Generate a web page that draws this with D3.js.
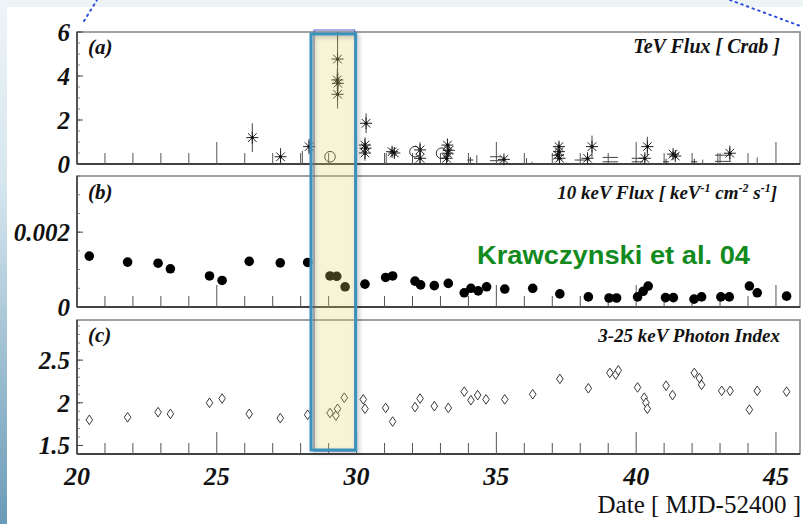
<!DOCTYPE html>
<html>
<head>
<meta charset="utf-8">
<script src="https://cdn.jsdelivr.net/npm/d3@7"></script>
<style>
  html, body { margin: 0; padding: 0; background: #fff; }
  svg { display: block; }
</style>
</head>
<body>
<svg id="chart" width="803" height="524"></svg>
<script>
// ---- Panel (a): TeV flux in Crab units ----
const tevStarDates = [26.27, 27.28, 28.30, 29.32, 29.31, 29.33, 29.32, 30.34, 30.30, 30.32, 30.30,
                      31.27, 31.35, 32.27, 32.27, 33.25, 33.25, 33.30, 33.22, 35.27, 37.24, 37.24,
                      37.26, 37.20, 38.26, 38.42, 40.31, 40.40, 41.32, 41.40, 43.35];
const tevStarFlux  = [1.20, 0.33, 0.79, 4.77, 3.82, 3.67, 3.17, 1.85, 0.86, 0.72, 0.50,
                      0.56, 0.50, 0.64, 0.26, 0.86, 0.49, 0.62, 0.26, 0.21, 0.79, 0.56,
                      0.26, 0.40, 0.26, 0.79, 0.26, 0.79, 0.45, 0.36, 0.49];
const tevStarErr   = [0.65, 0.40, 0.35, 1.25, 0.50, 0.50, 0.65, 0.45, 0.35, 0.30, 0.35,
                      0.20, 0.20, 0.35, 0.25, 0.30, 0.40, 0.30, 0.20, 0.15, 0.20, 0.30,
                      0.20, 0.20, 0.20, 0.50, 0.20, 0.45, 0.15, 0.15, 0.35];
const tevCircleDates = [29.05, 32.09, 33.04];
const tevCircleFlux  = [0.33, 0.56, 0.49];
const tevLimitDates  = [28.06, 31.06, 34.30, 36.08, 36.27, 42.38, 42.92, 44.33];
const tevLimitFlux   = [0.60, 0.50, 0.40, 0.27, 0.10, 0.20, 0.50, 0.30];
const tevBarStart = [34.77, 34.77, 37.80, 38.80, 38.80, 39.84, 39.84, 42.82, 42.82];
const tevBarEnd   = [35.20, 35.20, 38.35, 39.35, 39.35, 40.25, 40.25, 43.39, 43.39];
const tevBarFlux  = [0.33, 0.15, 0.18, 0.30, 0.10, 0.26, 0.10, 0.40, 0.12];
const tevCrossDates = [34.07, 41.07, 42.08];
const tevCrossFlux  = [0.18, 0.10, 0.10];

// ---- Panel (b): 10 keV flux ----
const xrayDates = [20.44, 21.81, 22.90, 23.34, 24.74, 25.19, 26.16, 27.27, 28.25, 29.05,
                   29.29, 29.59, 30.30, 31.04, 31.29, 32.09, 32.29, 32.78, 33.28, 33.85,
                   34.09, 34.35, 34.65, 35.30, 36.30, 37.27, 38.29, 39.03, 39.30, 40.05,
                   40.25, 40.43, 41.05, 41.33, 42.07, 42.34, 43.03, 43.33, 44.05, 44.33, 45.38];
const xrayFlux  = [0.00136, 0.00120, 0.00117, 0.00102, 0.00083, 0.00071, 0.00122, 0.00118, 0.00119, 0.00083,
                   0.00082, 0.00054, 0.00061, 0.00079, 0.00083, 0.00069, 0.00059, 0.00057, 0.00063, 0.00038,
                   0.00050, 0.00043, 0.00054, 0.00048, 0.00050, 0.00035, 0.00027, 0.00024, 0.00024, 0.00027,
                   0.00042, 0.00056, 0.00025, 0.00025, 0.00021, 0.00027, 0.00027, 0.00027, 0.00056, 0.00038, 0.00029];

// ---- Panel (c): 3-25 keV photon index ----
const indexDates = [20.44, 21.81, 22.90, 23.34, 24.74, 25.19, 26.16, 27.27, 28.25, 29.05,
                    29.26, 29.32, 29.56, 30.24, 30.30, 31.04, 31.29, 32.09, 32.27, 32.78,
                    33.28, 33.85, 34.09, 34.33, 34.63, 35.30, 36.30, 37.27, 38.29, 39.06,
                    39.27, 39.36, 40.05, 40.29, 40.35, 40.40, 41.07, 41.30, 42.08, 42.26,
                    42.34, 43.06, 43.36, 44.05, 44.33, 45.38];
const photonIndex = [1.80, 1.83, 1.89, 1.87, 2.00, 2.05, 1.87, 1.82, 1.86, 1.88,
                     1.85, 1.93, 2.06, 2.04, 1.93, 1.94, 1.78, 1.95, 2.05, 1.96,
                     1.94, 2.13, 2.03, 2.09, 2.04, 2.04, 2.10, 2.28, 2.17, 2.35,
                     2.33, 2.38, 2.18, 2.06, 2.00, 1.93, 2.20, 2.09, 2.35, 2.29,
                     2.21, 2.14, 2.14, 1.92, 2.14, 2.13];

// ---- Axis ticks and labels ----
const xTickLabels = [20, 25, 30, 35, 40, 45];
const tevTickLabels = [0, 2, 4, 6];
const xrayTickLabels = [0, 0.002];
const indexTickLabels = [1.5, 2, 2.5];
const flareWindow = [28.37, 29.97];

const svg = d3.select('#chart');
const serif = '"Liberation Serif", "Times New Roman", serif';

// Page background with a soft edge band on the left
const defs = svg.append('defs');
const band = defs.append('linearGradient').attr('id', 'band')
  .attr('x1', 0).attr('y1', 0).attr('x2', 0).attr('y2', 1);
band.append('stop').attr('offset', '0%').attr('stop-color', '#eef4f7');
band.append('stop').attr('offset', '35%').attr('stop-color', '#d6e6ee');
band.append('stop').attr('offset', '100%').attr('stop-color', '#6b9bb7');
const shadow = defs.append('filter').attr('id', 'shadow')
  .attr('x', '-30%').attr('y', '-5%').attr('width', '160%').attr('height', '110%');
shadow.append('feDropShadow').attr('dx', 2).attr('dy', 2).attr('stdDeviation', 2)
  .attr('flood-color', '#000').attr('flood-opacity', 0.25);

svg.append('rect').attr('width', 803).attr('height', 524).attr('fill', '#eef3f6');
svg.append('rect').attr('x', 0).attr('y', 0).attr('width', 7).attr('height', 524).attr('fill', 'url(#band)');
svg.append('rect').attr('x', 7).attr('y', 7).attr('width', 796).attr('height', 517).attr('fill', '#fff');

// Dotted guide lines at the top corners
const dotted = [[[84, 21], [97, 0]], [[730, 0], [803, 27]]];
svg.selectAll('line.guide').data(dotted).join('line').attr('class', 'guide')
  .attr('x1', d => d[0][0]).attr('y1', d => d[0][1])
  .attr('x2', d => d[1][0]).attr('y2', d => d[1][1])
  .attr('stroke', '#2f4fe0').attr('stroke-width', 2)
  .attr('stroke-dasharray', '1.5 4.5').attr('stroke-linecap', 'round');

const x = d3.scaleLinear().domain([20, 45.86]).range([77, 800]);

const panels = [
  { id: 'a', y: d3.scaleLinear().domain([0, 6]).range([164, 32]),
    labels: tevTickLabels, minorStep: 0.5, fmt: d => String(d),
    letter: '(a)', letterY: 54 },
  { id: 'b', y: d3.scaleLinear().domain([0, 0.0035]).range([307, 176]),
    labels: xrayTickLabels, minorStep: 0.0005, fmt: d => d === 0 ? '0' : d.toFixed(3),
    letter: '(b)', letterY: 199 },
  { id: 'c', y: d3.scaleLinear().domain([1.4, 2.97]).range([454, 320]),
    labels: indexTickLabels, minorStep: 0.1, fmt: d => String(d),
    letter: '(c)', letterY: 342 }
];

const xMinor = d3.range(21, 46);
const xMajor = xTickLabels;

panels.forEach(p => {
  const g = svg.append('g').attr('class', 'panel-' + p.id);
  const [y0, y1] = p.y.range();
  // frame
  g.append('rect').attr('x', x.range()[0]).attr('y', y1)
    .attr('width', x.range()[1] - x.range()[0]).attr('height', y0 - y1)
    .attr('fill', 'none').attr('stroke', '#8a8a8a').attr('stroke-width', 1.6);
  g.append('line').attr('x1', x.range()[0]).attr('x2', x.range()[1]).attr('y1', y0).attr('y2', y0)
    .attr('stroke', '#222').attr('stroke-width', 1.6);
  g.append('line').attr('x1', x.range()[0]).attr('x2', x.range()[0]).attr('y1', y0).attr('y2', y1)
    .attr('stroke', '#333').attr('stroke-width', 1.4);

  // x ticks (pointing up)
  g.selectAll('line.xminor').data(xMinor.filter(d => d % 5 !== 0)).join('line')
    .attr('x1', d => x(d)).attr('x2', d => x(d)).attr('y1', y0).attr('y2', y0 - 11)
    .attr('stroke', '#555').attr('stroke-width', 1);
  g.selectAll('line.xmajor').data(xMajor.filter(d => d > 20)).join('line')
    .attr('x1', d => x(d)).attr('x2', d => x(d)).attr('y1', y0).attr('y2', y0 - 22)
    .attr('stroke', '#555').attr('stroke-width', 1);

  // y ticks (pointing right)
  const dom = p.y.domain();
  const minor = d3.range(Math.ceil(dom[0] / p.minorStep - 1e-9) * p.minorStep, dom[1] + 1e-12, p.minorStep);
  g.selectAll('line.yminor').data(minor).join('line')
    .attr('x1', x.range()[0]).attr('x2', x.range()[0] + 3)
    .attr('y1', d => p.y(d)).attr('y2', d => p.y(d))
    .attr('stroke', '#666').attr('stroke-width', 0.8);
  g.selectAll('line.ymajor').data(p.labels).join('line')
    .attr('x1', x.range()[0]).attr('x2', x.range()[0] + 6)
    .attr('y1', d => p.y(d)).attr('y2', d => p.y(d))
    .attr('stroke', '#444').attr('stroke-width', 1);
  g.selectAll('text.ylab').data(p.labels).join('text')
    .attr('x', 70).attr('y', d => p.y(d)).attr('dy', '0.35em')
    .attr('text-anchor', 'end')
    .attr('font-family', serif).attr('font-weight', 'bold').attr('font-style', 'italic')
    .attr('font-size', 25).attr('fill', '#111')
    .text(p.fmt);

  g.append('text').attr('x', 88).attr('y', p.letterY)
    .attr('font-family', serif).attr('font-weight', 'bold').attr('font-style', 'italic')
    .attr('font-size', 21).attr('fill', '#111').text(p.letter);
  p.g = g;
});

// ---- Panel (a) marks ----
const pa = panels[0], ga = pa.g;
const tevStars = tevStarDates.map((d, i) => ({ d, v: tevStarFlux[i], e: tevStarErr[i] }));
ga.selectAll('line.limit').data(tevLimitDates).join('line')
  .attr('x1', d => x(d)).attr('x2', d => x(d))
  .attr('y1', pa.y(0)).attr('y2', (d, i) => pa.y(tevLimitFlux[i]))
  .attr('stroke', '#555').attr('stroke-width', 1);
ga.selectAll('line.hbar').data(tevBarStart).join('line')
  .attr('x1', d => x(d)).attr('x2', (d, i) => x(tevBarEnd[i]))
  .attr('y1', (d, i) => pa.y(tevBarFlux[i])).attr('y2', (d, i) => pa.y(tevBarFlux[i]))
  .attr('stroke', '#444').attr('stroke-width', 1);
ga.selectAll('path.cross').data(tevCrossDates).join('path')
  .attr('transform', (d, i) => `translate(${x(d)},${pa.y(tevCrossFlux[i])})`)
  .attr('d', 'M-3,0H3M0,-3V3').attr('stroke', '#333').attr('stroke-width', 1);
ga.selectAll('line.err').data(tevStars).join('line')
  .attr('x1', s => x(s.d)).attr('x2', s => x(s.d))
  .attr('y1', s => pa.y(Math.min(6, s.v + s.e))).attr('y2', s => pa.y(Math.max(0, s.v - s.e)))
  .attr('stroke', '#444').attr('stroke-width', 1);
const starPath = 'M-6,0H6M0,-6V6M-4.3,-4.3L4.3,4.3M-4.3,4.3L4.3,-4.3';
ga.selectAll('path.star').data(tevStars).join('path')
  .attr('transform', s => `translate(${x(s.d)},${pa.y(s.v)})`)
  .attr('d', starPath).attr('fill', 'none').attr('stroke', '#222').attr('stroke-width', 1);
ga.selectAll('circle.core').data(tevStars).join('circle')
  .attr('cx', s => x(s.d)).attr('cy', s => pa.y(s.v)).attr('r', 1.6).attr('fill', '#111');
ga.selectAll('circle.open').data(tevCircleDates).join('circle')
  .attr('cx', d => x(d)).attr('cy', (d, i) => pa.y(tevCircleFlux[i])).attr('r', 5.3)
  .attr('fill', 'none').attr('stroke', '#333').attr('stroke-width', 1);
ga.append('text').attr('x', 780).attr('y', 53).attr('text-anchor', 'end')
  .attr('font-family', serif).attr('font-weight', 'bold').attr('font-style', 'italic')
  .attr('font-size', 20).attr('fill', '#111').text('TeV Flux [ Crab ]');

// ---- Panel (b) marks ----
const pb = panels[1], gb = pb.g;
gb.selectAll('circle.dot').data(xrayDates).join('circle')
  .attr('cx', d => x(d)).attr('cy', (d, i) => pb.y(xrayFlux[i])).attr('r', 4.8)
  .attr('fill', '#000');
const fluxTitle = gb.append('text').attr('x', 777).attr('y', 199).attr('text-anchor', 'end')
  .attr('font-family', serif).attr('font-weight', 'bold').attr('font-style', 'italic')
  .attr('font-size', 19).attr('fill', '#111');
fluxTitle.append('tspan').text('10 keV Flux [ keV');
fluxTitle.append('tspan').attr('dy', -7).attr('font-size', 12).text('-1');
fluxTitle.append('tspan').attr('dy', 7).text(' cm');
fluxTitle.append('tspan').attr('dy', -7).attr('font-size', 12).text('-2');
fluxTitle.append('tspan').attr('dy', 7).text(' s');
fluxTitle.append('tspan').attr('dy', -7).attr('font-size', 12).text('-1');
fluxTitle.append('tspan').attr('dy', 7).text(']');
gb.append('text').attr('x', 477).attr('y', 264)
  .attr('font-family', '"Liberation Sans", Arial, sans-serif').attr('font-weight', 'bold')
  .attr('font-size', 26).attr('fill', '#128a1e')
  .attr('textLength', 273).attr('lengthAdjust', 'spacingAndGlyphs')
  .text('Krawczynski et al. 04');

// ---- Panel (c) marks ----
const pc = panels[2], gc = pc.g;
gc.selectAll('path.diamond').data(indexDates).join('path')
  .attr('transform', (d, i) => `translate(${x(d)},${pc.y(photonIndex[i])})`)
  .attr('d', 'M0,-4.8L3.3,0L0,4.8L-3.3,0Z')
  .attr('fill', '#fff').attr('stroke', '#222').attr('stroke-width', 0.9);
gc.append('text').attr('x', 780).attr('y', 342).attr('text-anchor', 'end')
  .attr('font-family', serif).attr('font-weight', 'bold').attr('font-style', 'italic')
  .attr('font-size', 19).attr('fill', '#111').text('3-25 keV Photon Index');

// Shared date axis labels
svg.selectAll('text.xlab').data(xTickLabels).join('text')
  .attr('x', d => x(d)).attr('y', 485).attr('text-anchor', 'middle')
  .attr('font-family', serif).attr('font-weight', 'bold').attr('font-style', 'italic')
  .attr('font-size', 26).attr('fill', '#111').text(d => d);
svg.append('text').attr('x', 801).attr('y', 513).attr('text-anchor', 'end')
  .attr('font-family', serif).attr('font-size', 25).attr('fill', '#111')
  .text('Date [ MJD-52400 ]');

// Flare window highlight across all three panels
const hx0 = x(flareWindow[0]), hx1 = x(flareWindow[1]);
svg.append('rect').attr('x', hx0 + 3).attr('y', 30).attr('width', hx1 - hx0 - 4).attr('height', 421)
  .attr('fill', 'none').attr('stroke', '#4c5fcf').attr('stroke-width', 1);
svg.append('rect').attr('x', hx0).attr('y', 34).attr('width', hx1 - hx0).attr('height', 416)
  .attr('fill', 'rgb(222,212,105)').attr('fill-opacity', 0.27);
svg.append('rect').attr('x', hx0).attr('y', 34).attr('width', hx1 - hx0).attr('height', 416)
  .attr('fill', 'none').attr('stroke', '#3a92bd').attr('stroke-width', 3)
  .attr('filter', 'url(#shadow)');
</script>
</body>
</html>
